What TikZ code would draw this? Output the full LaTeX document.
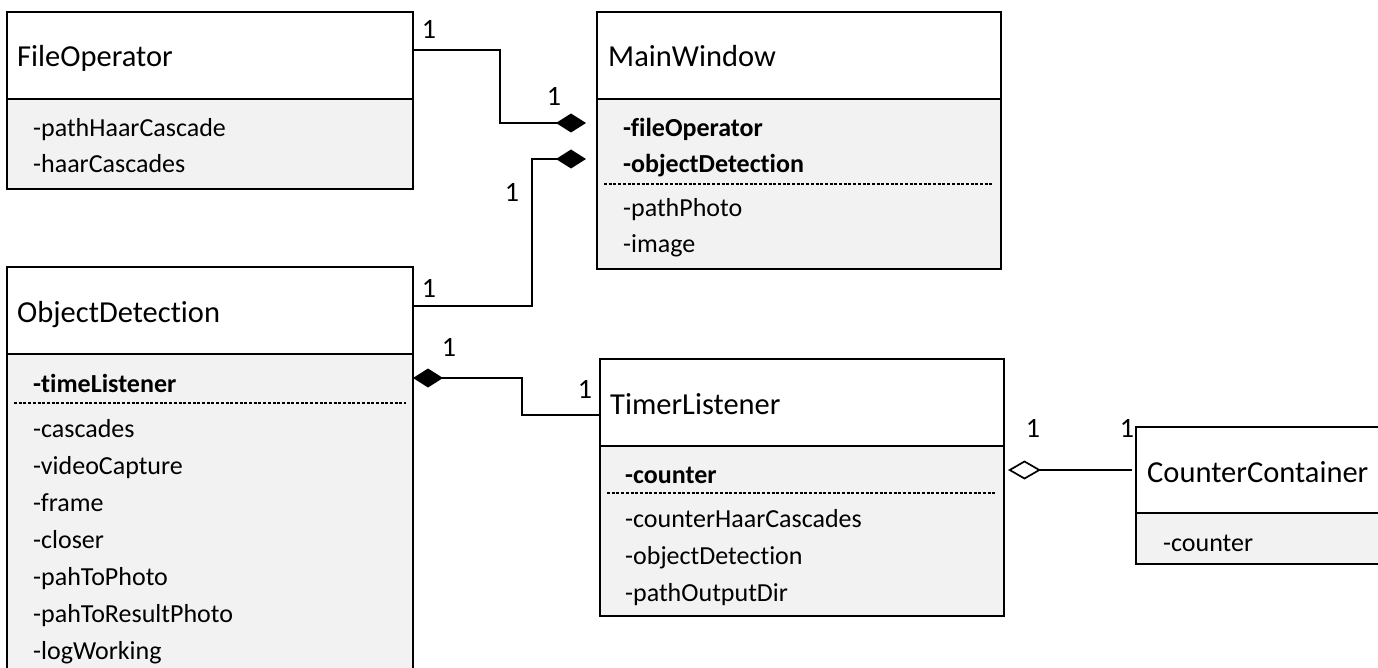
\documentclass[tikz,border=0pt]{standalone}
\usepackage{fontspec}
\setmainfont{Carlito}[Ligatures=NoCommon]
\usetikzlibrary{arrows.meta,calc}
\definecolor{bodygray}{HTML}{F2F2F2}
\tikzset{
  classhead/.style={draw, line width=2pt, fill=white, anchor=north west,
    inner sep=0pt, outer sep=0pt, minimum height=87pt},
  classbody/.style={draw, line width=2pt, fill=bodygray, anchor=north west,
    inner sep=0pt, outer sep=0pt},
  ttl/.style={anchor=base west, inner sep=0pt, font=\fontsize{30.5}{36}\selectfont},
  attr/.style={anchor=base west, inner sep=0pt, font=\fontsize{26}{30}\selectfont},
  battr/.style={anchor=base west, inner sep=0pt, font=\fontsize{26}{30}\selectfont\bfseries},
  sepline/.style={line width=1.3pt, dash pattern=on 3pt off 1.7pt},
  conn/.style={line width=1.7pt},
  comp/.style={conn, -{Diamond[length=30pt,width=19pt]}},
  rcomp/.style={conn, {Diamond[length=30pt,width=19pt]}-},
  aggr/.style={conn, {Diamond[open,length=33pt,width=19pt]}-},
  mult/.style={inner sep=0pt, font=\fontsize{28}{30}\selectfont},
}
\begin{document}
\begin{tikzpicture}[x=1pt, y=-1pt]
\useasboundingbox (0,0) rectangle (1378,668);

% ---------- FileOperator ----------
\node[classhead, minimum width=406pt] (fo) at (7,12) {};
\node[classbody, minimum width=406pt, minimum height=90pt] (fob) at (fo.south west) {};
\node[ttl] (fo-t) at (17,67) {FileOperator};
\node[attr] (fo-a1) at (33,137) {-pathHaarCascade};
\node[attr] (fo-a2) at (33,173) {-haarCascades};

% ---------- MainWindow ----------
\node[classhead, minimum width=404pt] (mw) at (597,12) {};
\node[classbody, minimum width=404pt, minimum height=170pt] (mwb) at (mw.south west) {};
\node[ttl] (mw-t) at (608,67) {MainWindow};
\node[battr] (mw-a1) at (623,137) {-fileOperator};
\node[battr] (mw-a2) at (623,173) {-objectDetection};
\draw[sepline] ($(mwb.north west)+(7,85)$) -- ($(mwb.north east)+(-7,85)$);
\node[attr] (mw-a3) at (623,217) {-pathPhoto};
\node[attr] (mw-a4) at (623,253) {-image};

% ---------- ObjectDetection ----------
\node[classhead, minimum width=406pt] (od) at (7,267) {};
\node[classbody, minimum width=406pt, minimum height=360pt] (odb) at (od.south west) {};
\node[ttl] (od-t) at (17,322) {ObjectDetection};
\node[battr] (od-a1) at (33,392) {-timeListener};
\draw[sepline] ($(odb.north west)+(7,49)$) -- ($(odb.north east)+(-7,49)$);
\node[attr] (od-a2) at (33,437) {-cascades};
\node[attr] (od-a3) at (33,474) {-videoCapture};
\node[attr] (od-a4) at (33,511) {-frame};
\node[attr] (od-a5) at (33,548) {-closer};
\node[attr] (od-a6) at (33,585) {-pahToPhoto};
\node[attr] (od-a7) at (33,622) {-pahToResultPhoto};
\node[attr] (od-a8) at (33,659) {-logWorking};

% ---------- TimerListener ----------
\node[classhead, minimum width=404pt] (tl) at (600,359) {};
\node[classbody, minimum width=404pt, minimum height=170pt] (tlb) at (tl.south west) {};
\node[ttl] (tl-t) at (610,414) {TimerListener};
\node[battr] (tl-a1) at (625,483) {-counter};
\draw[sepline] ($(tlb.north west)+(7,47)$) -- ($(tlb.north east)+(-7,47)$);
\node[attr] (tl-a2) at (625,527) {-counterHaarCascades};
\node[attr] (tl-a3) at (625,564) {-objectDetection};
\node[attr] (tl-a4) at (625,601) {-pathOutputDir};

% ---------- CounterContainer ----------
\node[classhead, minimum width=270pt, minimum height=86pt] (cc) at (1136,427) {};
\node[classbody, minimum width=270pt, minimum height=51pt] (ccb) at (cc.south west) {};
\node[ttl] (cc-t) at (1147,482) {CounterContainer};
\node[attr] (cc-a1) at (1163,551) {-counter};

% ---------- relations ----------
\draw[comp] ($(fo.east)+(0,-5.5)$) -- ++(87,0) |- ($(mwb.north west)+(-11,24)$);
\draw[comp] ($(od.east)+(0,-4.5)$) -- ++(119,0) |- ($(mwb.north west)+(-11,60)$);
\draw[rcomp] ($(odb.north east)+(0,24)$) -- ++(109,0) |- ($(tl.west)+(0,12.5)$);
\draw[aggr] ($(tlb.north east)+(4,24)$) -- ($(cc.west)+(-4,0)$);

% ---------- multiplicities ----------
\node[mult] (m1) at (429,29) {1};
\node[mult] (m2) at (554,96) {1};
\node[mult] (m3) at (429,288) {1};
\node[mult] (m4) at (512,192) {1};
\node[mult] (m5) at (449,347) {1};
\node[mult] (m6) at (585,389) {1};
\node[mult] (m7) at (1033,428) {1};
\node[mult] (m8) at (1127,428) {1};
\end{tikzpicture}
\end{document}
